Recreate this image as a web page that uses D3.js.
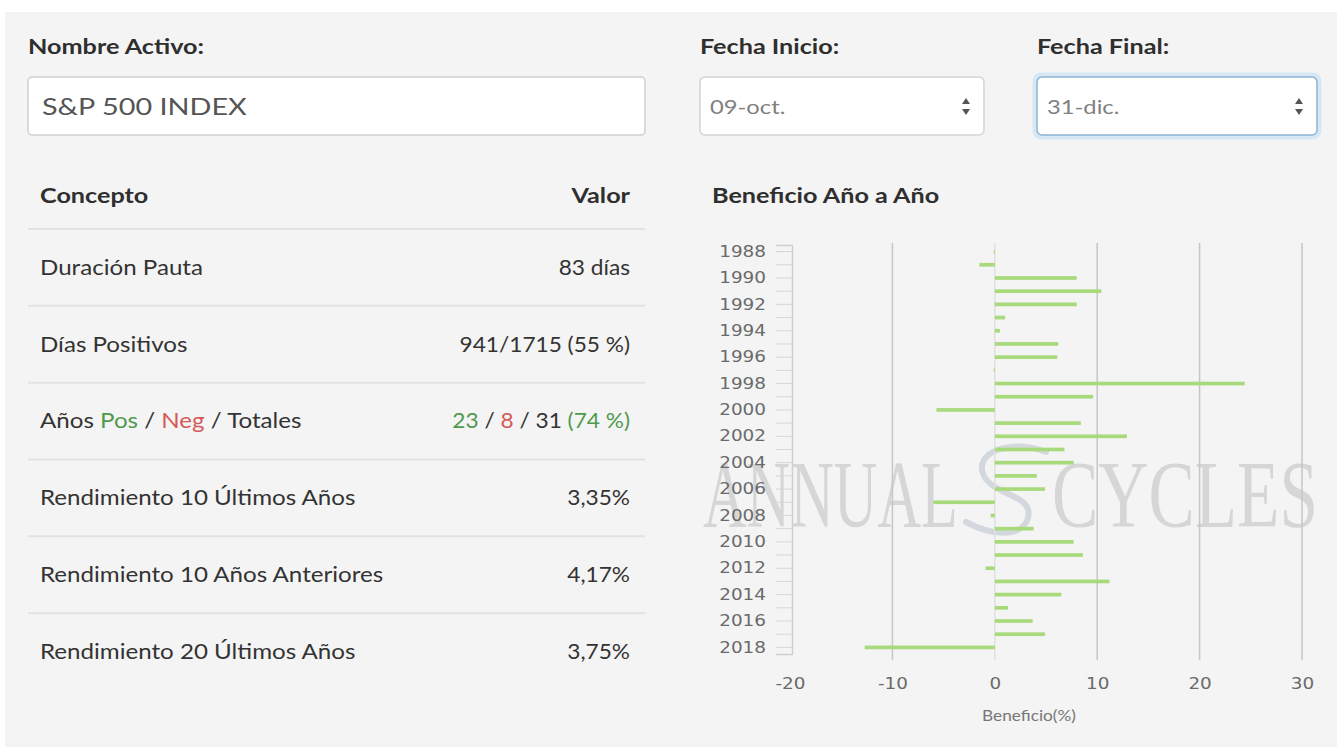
<!DOCTYPE html>
<html>
<head>
<meta charset="utf-8">
<script src="https://cdn.jsdelivr.net/npm/d3@7"></script>
<style>
  body { margin: 0; background: #fff; }
  svg { display: block; font-family: Lato, sans-serif; }
</style>
</head>
<body>
<svg id="page" width="1337" height="747"></svg>
<script>
// data
const years = [1988, 1989, 1990, 1991, 1992, 1993, 1994, 1995, 1996, 1997,
               1998, 1999, 2000, 2001, 2002, 2003, 2004, 2005, 2006, 2007,
               2008, 2009, 2010, 2011, 2012, 2013, 2014, 2015, 2016, 2017, 2018];
const returns = [-0.1, -1.5, 8.0, 10.4, 8.0, 1.0, 0.5, 6.2, 6.1, -0.1,
                 24.4, 9.6, -5.7, 8.4, 12.9, 6.8, 7.7, 4.1, 4.9, -6.0,
                 -0.4, 3.8, 7.7, 8.6, -0.9, 11.2, 6.5, 1.3, 3.7, 4.9, -12.7];
const xTicks = [-20, -10, 0, 10, 20, 30];
const concepts = ['Duración Pauta', 'Días Positivos', 'Años Pos / Neg / Totales',
                  'Rendimiento 10 Últimos Años', 'Rendimiento 10 Años Anteriores',
                  'Rendimiento 20 Últimos Años'];
const values = ['83 días', '941/1715 (55 %)', '23 / 8 / 31 (74 %)', '3,35%', '4,17%', '3,75%'];
const assetName = 'S&P 500 INDEX';
const startDate = '09-oct.';
const endDate = '31-dic.';

const SX = 1.15; // the screenshot is a bit wider than it is tall
const GREEN = '#4f9a4f', RED = '#d55b58';

const svg = d3.select('#page');

// page background
svg.append('rect').attr('x', 5).attr('y', 12).attr('width', 1332).attr('height', 735)
    .attr('fill', '#f4f4f4');

// little helper: text stretched horizontally like the reference
function label(parent, x, y, str, opts = {}) {
    const g = parent.append('g').attr('transform', `translate(${x},${y}) scale(${opts.sx || SX},1)`);
    const t = g.append('text')
        .attr('dy', '0.35em')
        .attr('text-anchor', opts.anchor || 'start')
        .attr('font-size', opts.size || 21)
        .attr('font-weight', opts.weight || 400)
        .attr('fill', opts.color || '#333')
        .text(str);
    if (opts.family) t.attr('font-family', opts.family);
    return t;
}

const HEAD = {size: 21, weight: 700, color: '#2f2f2f', sx: 1.2};

// form header
label(svg, 28, 47, 'Nombre Activo:', HEAD);
label(svg, 700, 47, 'Fecha Inicio:', HEAD);
label(svg, 1037, 47, 'Fecha Final:', HEAD);

svg.append('rect').attr('x', 28).attr('y', 77).attr('width', 617).attr('height', 58)
    .attr('rx', 4).attr('fill', '#fff').attr('stroke', '#cfcfcf').attr('stroke-width', 1.5);
label(svg, 42, 107, assetName, {size: 24, color: '#555', sx: 1.2});

function selectBox(x, w, str, focus) {
    if (focus) {
        svg.append('rect').attr('x', x - 2).attr('y', 75).attr('width', w + 4).attr('height', 62)
            .attr('rx', 6).attr('fill', 'none').attr('stroke', '#d6e7f5').attr('stroke-width', 5);
    }
    svg.append('rect').attr('x', x).attr('y', 77).attr('width', w).attr('height', 58)
        .attr('rx', 5).attr('fill', '#fff')
        .attr('stroke', focus ? '#8fb4d2' : '#d4d4d4').attr('stroke-width', 1.5);
    label(svg, x + 10, 107, str, {size: 19, color: '#808080', sx: 1.25});
    const ax = x + w - 18;
    svg.append('path').attr('d', `M${ax - 4},104 L${ax + 4},104 L${ax},98 Z`).attr('fill', '#555');
    svg.append('path').attr('d', `M${ax - 4},109 L${ax + 4},109 L${ax},115 Z`).attr('fill', '#555');
}
selectBox(700, 284, startDate, false);
selectBox(1037, 280, endDate, true);

// table
const table = svg.append('g');
label(table, 40, 196, 'Concepto', HEAD);
label(table, 630, 196, 'Valor', Object.assign({}, HEAD, {anchor: 'end'}));

const rowY = d3.scaleBand().domain(d3.range(concepts.length)).range([229, 690]);
concepts.forEach((c, i) => {
    const top = rowY(i);
    table.append('line').attr('x1', 28).attr('x2', 645).attr('y1', top).attr('y2', top)
        .attr('stroke', '#e2e2e2').attr('stroke-width', 2);
    const cy = top + rowY.step() / 2;
    if (i === 2) {
        const t = label(table, 40, cy, '');
        t.append('tspan').text('Años ');
        t.append('tspan').attr('fill', GREEN).text('Pos');
        t.append('tspan').text(' / ');
        t.append('tspan').attr('fill', RED).text('Neg');
        t.append('tspan').text(' / Totales');
        const v = label(table, 630, cy, '', {anchor: 'end', sx: 1.08});
        v.append('tspan').attr('fill', GREEN).text('23');
        v.append('tspan').text(' / ');
        v.append('tspan').attr('fill', RED).text('8');
        v.append('tspan').text(' / 31 ');
        v.append('tspan').attr('fill', GREEN).text('(74 %)');
    } else {
        label(table, 40, cy, c);
        label(table, 630, cy, values[i], {anchor: 'end', sx: 1.08});
    }
});

// chart
label(svg, 712, 196, 'Beneficio Año a Año', HEAD);

const x = d3.scaleLinear().domain([-20, 30]).range([790, 1302]);
const y = d3.scaleBand().domain(years).range([245, 654]).paddingInner(0.72).paddingOuter(0.36);

const chart = svg.append('g');

// watermark
const wm = chart.append('g').attr('fill', '#d6d6d6');
wm.append('text').attr('x', 703).attr('y', 527).attr('font-family', 'Liberation Serif')
    .attr('font-size', 96).attr('textLength', 255).attr('lengthAdjust', 'spacingAndGlyphs').text('ANNUAL');
wm.append('text').attr('x', 1052).attr('y', 527).attr('font-family', 'Liberation Serif')
    .attr('font-size', 96).attr('textLength', 266).attr('lengthAdjust', 'spacingAndGlyphs').text('CYCLES');
wm.append('path')
    .attr('d', 'M1046,452 C1012,438 972,452 984,476 C994,496 1034,494 1028,518 C1022,538 992,536 966,522')
    .attr('fill', 'none').attr('stroke', '#d3d8de').attr('stroke-width', 6).attr('stroke-linecap', 'round');

// grid
chart.append('g').selectAll('line')
    .data(xTicks.filter(d => d !== -20))
    .join('line')
    .attr('x1', d => x(d)).attr('x2', d => x(d))
    .attr('y1', 243).attr('y2', 660)
    .attr('stroke', d => d === 0 ? '#e0e0e0' : '#c6c6c6')
    .attr('stroke-width', 1.5);

// bars
chart.append('g').selectAll('rect')
    .data(years)
    .join('rect')
    .attr('x', (d, i) => x(Math.min(0, returns[i])))
    .attr('width', (d, i) => Math.abs(x(returns[i]) - x(0)))
    .attr('y', d => y(d))
    .attr('height', y.bandwidth())
    .attr('fill', '#a8da7c');

// y axis
const yAxis = chart.append('g')
    .attr('transform', 'translate(792,0)')
    .call(d3.axisLeft(y).tickSize(16).tickPadding(10)
        .tickFormat(d => d % 2 === 0 ? d : ''));
yAxis.select('.domain').attr('stroke', '#cfcfcf').attr('stroke-width', 1.5);
yAxis.selectAll('.tick line').attr('stroke', '#d6d6d6');
yAxis.selectAll('.tick text')
    .attr('font-family', 'DejaVu Sans').attr('font-size', 16).attr('fill', '#6a6a6a')
    .attr('x', 0).attr('transform', `translate(-26,0) scale(${SX},1)`);

// x axis
const xAxis = chart.append('g')
    .attr('transform', 'translate(0,665)')
    .call(d3.axisBottom(x).tickValues(xTicks).tickSize(0).tickPadding(13)
        .tickFormat(d => String(d)));
xAxis.select('.domain').remove();
xAxis.selectAll('.tick text')
    .attr('font-family', 'DejaVu Sans').attr('font-size', 16).attr('fill', '#6a6a6a')
    .attr('transform', `scale(${SX},1)`);

label(svg, 1029, 716, 'Beneficio(%)', {size: 15, color: '#777', anchor: 'middle'});
</script>
</body>
</html>
